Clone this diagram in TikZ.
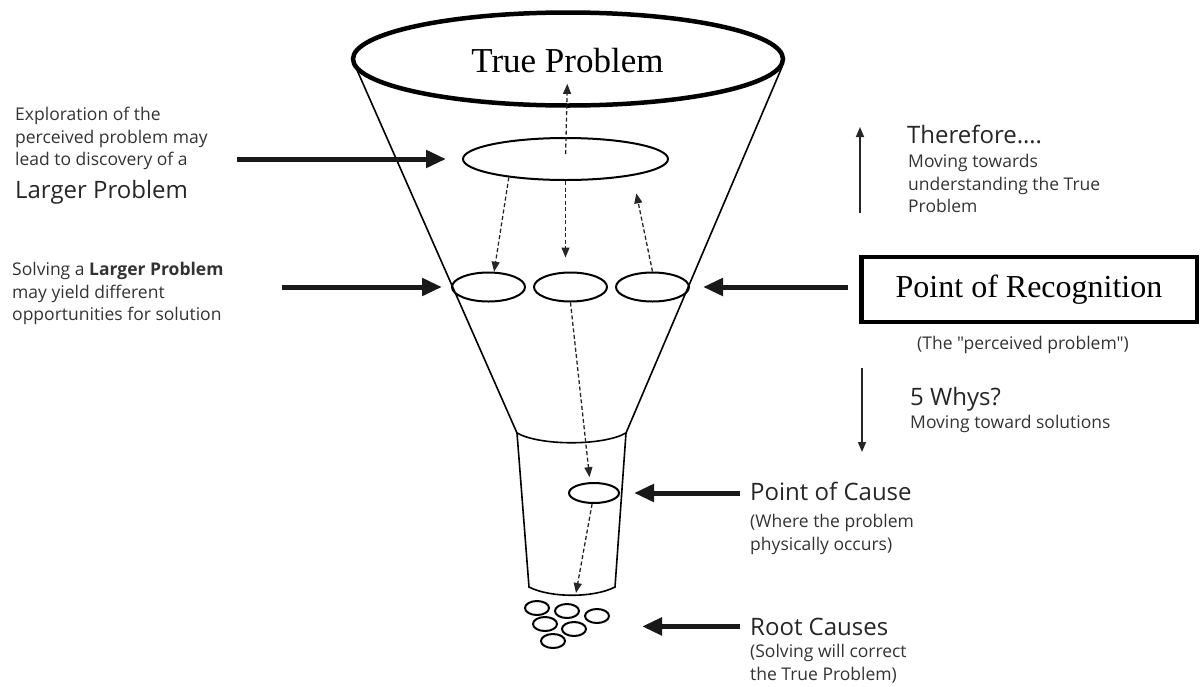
\documentclass[tikz,border=0pt]{standalone}
\usepackage{fontspec}
\setmainfont{Open Sans}[Ligatures=TeXOff]
\newfontfamily\serif{Liberation Serif}
\usetikzlibrary{arrows.meta,positioning,shapes.geometric,calc}

\begin{document}
\begin{tikzpicture}[x=1pt,y=-1pt,
  small/.style={font=\fontsize{17.5}{22.5}\selectfont,align=left,inner sep=0pt,anchor=north west,text=black!80},
  head/.style={font=\fontsize{24}{28}\selectfont,inner sep=0pt,anchor=base west,text=black!85},
  ell/.style={draw,ellipse,line width=2pt,inner sep=0pt},
  big arr/.style={-{Triangle[length=20pt,width=17pt]},line width=5pt,color=black!90},
  thin arr/.style={-{Triangle[length=10pt,width=8pt]},line width=1.6pt,color=black!85},
  dash arr/.style={-{Triangle[length=10pt,width=8pt]},line width=1.3pt,dash pattern=on 4pt off 2.5pt,color=black!85}]
\useasboundingbox (0,0) rectangle (1200,686);
% funnel
\draw[line width=1.6pt] (357,70) -- (517,433) .. controls (540,446) and (603,446) .. (626,433) -- (782,67);
\draw[line width=1.6pt] (517,433) -- (529,587) .. controls (550,598) and (594,598) .. (615,587) -- (626,433);
\node[ell,line width=4.5pt,minimum width=430pt,minimum height=93pt] (rim) at (568,59) {};
\node[font=\serif\fontsize{35}{40}\selectfont,anchor=base] (truep) at (567.5,72) {True Problem};
% problems inside the funnel
\node[ell,minimum width=205pt,minimum height=42pt] (larger) at (565.5,159) {};
\node[ell,minimum width=73pt,minimum height=29pt] (lmid) at (488.5,287) {};
\node[ell,minimum width=73pt,minimum height=29pt] (cmid) at (570.5,287) {};
\node[ell,minimum width=73pt,minimum height=29pt] (rmid) at (652.5,287) {};
\node[ell,minimum width=50pt,minimum height=20pt] (cause) at (594,493) {};
\foreach \i/\p in {1/{537,608},2/{567,611},3/{597,616},4/{545,624},5/{574,629},6/{553,641}}
  \node[ell,minimum width=24pt,minimum height=14pt] (root\i) at (\p) {};
\coordinate (neck) at (576,593);
\draw[dash arr,shorten <=5pt,shorten >=8pt] (larger.center) -- (truep.south);
\draw[dash arr] (larger.198) -- (lmid.70);
\draw[dash arr,shorten >=14pt] (larger.south) -- (larger.south |- cmid.north);
\draw[dash arr,shorten >=18pt] (rmid.north) -- (larger.-14);
\draw[dash arr,shorten >=5pt] (cmid.south) -- (cause.110);
\draw[dash arr] (cause.-100) -- (neck);
% left side
\node[small] (explo) at (15,107) {Exploration of the\\perceived problem may\\lead to discovery of a};
\node[head] (largerlbl) at (15,198) {Larger Problem};
\node[small] (solving) at (12,262) {Solving a \textbf{Larger Problem}\\may yield different\\opportunities for solution};
\draw[big arr,shorten >=16pt] ([xshift=-225pt]larger.west) -- (larger.west);
\draw[big arr,shorten >=9pt] ([xshift=-169pt]lmid.west) -- (lmid.west);
% right side
\node[head] (there) at (907,143) {Therefore….};
\node[small] (towards) at (908,154) {Moving towards\\understanding the True\\Problem};
\coordinate (up1) at (860,213);
\coordinate (up2) at (860,127);
\draw[thin arr] (up1) -- (up2);
\node[draw,line width=4.5pt,minimum width=335.5pt,minimum height=65pt,font=\serif\fontsize{32}{36}\selectfont] (recog) at (1029,289.5) {Point of Recognition};
\node[small,anchor=base] (perc) at (1023,349) {(The "perceived problem")};
\draw[big arr,shorten <=11pt,shorten >=13pt] (recog.west |- rmid.east) -- (rmid.east);
\node[head] (whys) at (910,405) {5 Whys?};
\node[small] (toward) at (910,415) {Moving toward solutions};
\coordinate (dn1) at (862,368);
\coordinate (dn2) at (862,452);
\draw[thin arr] (dn1) -- (dn2);
\node[head] (poc) at (750,500) {Point of Cause};
\node[small] (where) at (750,514) {(Where the problem\\physically occurs)};
\draw[big arr,shorten <=10pt,shorten >=14pt] (poc.west |- cause.east) -- (cause.east);
\node[head] (rcause) at (750,635) {Root Causes};
\node[small] (solve) at (750,644) {(Solving will correct\\the True Problem)};
\draw[big arr,shorten <=10pt] (rcause.west) -- ++(-108,0);
\end{tikzpicture}
\end{document}
